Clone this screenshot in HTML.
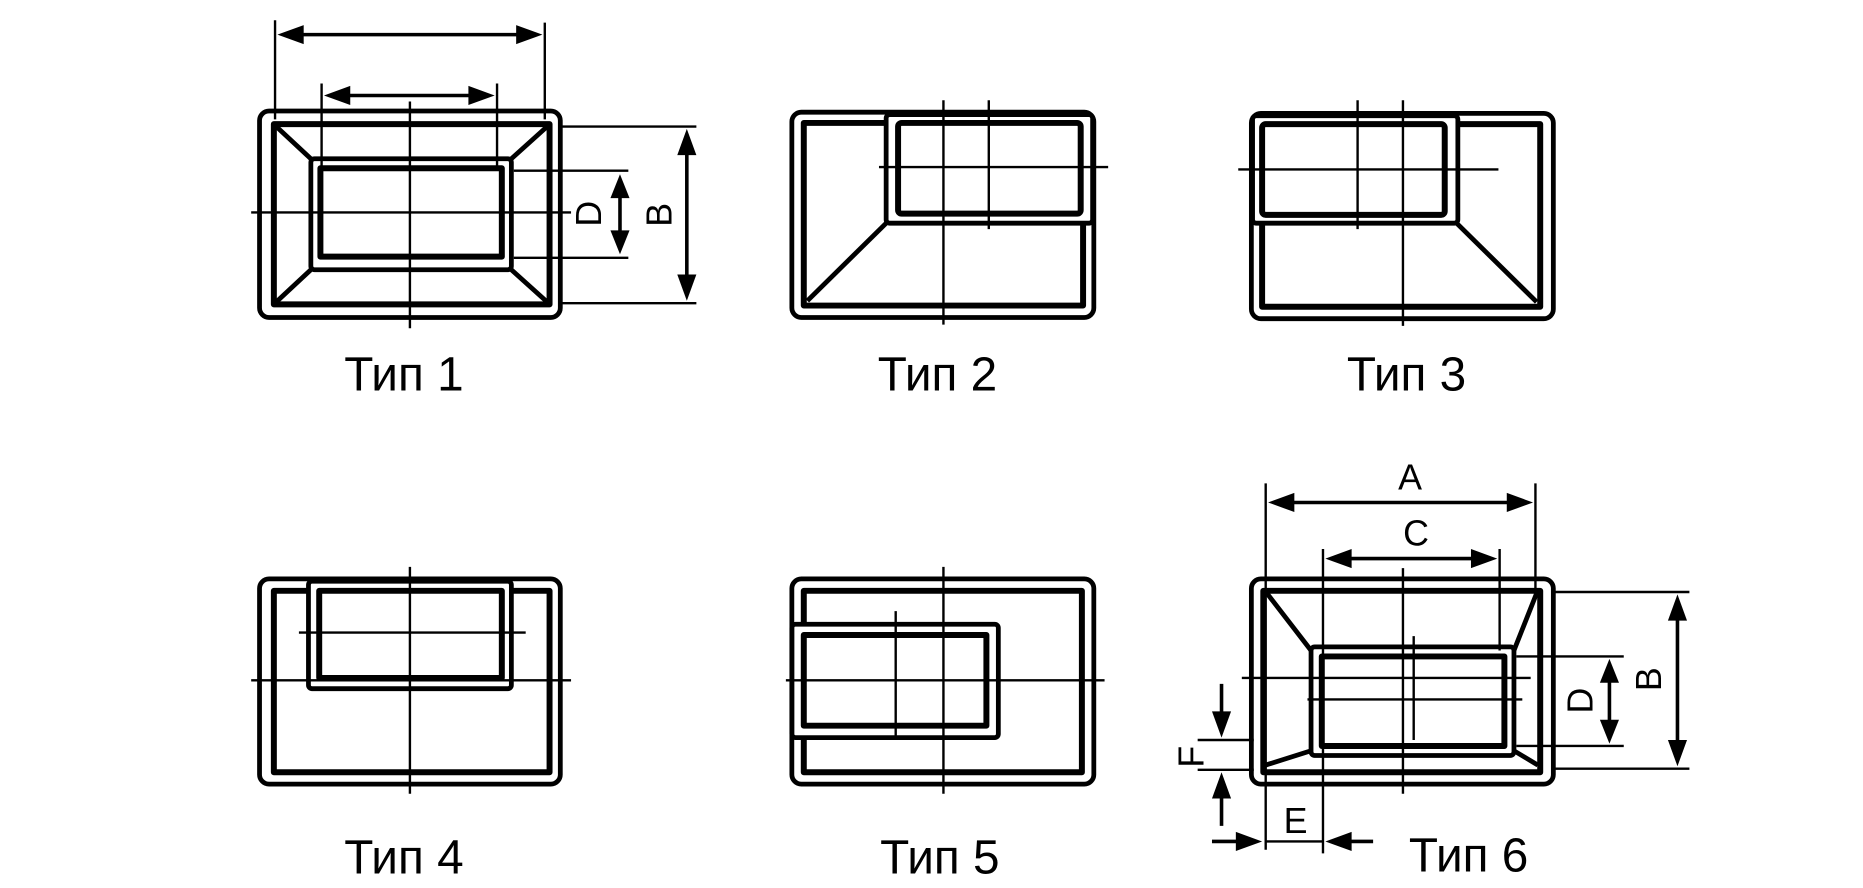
<!DOCTYPE html>
<html><head><meta charset="utf-8"><style>html,body{margin:0;padding:0;background:#fff}svg{display:block}</style></head>
<body>
<svg width="1863" height="888" viewBox="0 0 1560 744" xmlns="http://www.w3.org/2000/svg">
<g fill="none" stroke="#000" stroke-linecap="butt" stroke-linejoin="round">
<!-- Type 1 -->
<rect x="217" y="93" width="252" height="173" rx="8" stroke-width="4"/>
<rect x="229" y="104" width="231" height="151" stroke-width="5"/>
<rect x="260" y="133" width="168" height="93" rx="3" stroke-width="4"/>
<rect x="268" y="141" width="152" height="74" stroke-width="5"/>
<path d="M231,106 L260,133 M458,106 L428,133 M231,253 L260,226 M458,253 L428,226" stroke-width="4"/>
<path d="M343,85 V275 M210,178 H478" stroke-width="2"/>
<path d="M230,17 V100 M456,19 V100 M269,70 V140 M416,70 V140" stroke-width="2"/>
<path d="M240,29 H446 M279,80 H406" stroke-width="3"/>
<path d="M470,106 H583 M470,254 H583 M430,143 H526 M430,216 H526" stroke-width="2"/>
<path d="M575,116 V244 M519,154 V205" stroke-width="3"/>
<!-- Type 2 -->
<rect x="663" y="94" width="253" height="172" rx="8" stroke-width="4"/>
<path d="M742,103 H673 V256 H907 V187" stroke-width="5"/>
<rect x="742" y="96" width="173" height="91" rx="3" stroke-width="4"/>
<rect x="752" y="103" width="153" height="76" rx="3" stroke-width="5"/>
<path d="M676,252 L742,187" stroke-width="4"/>
<path d="M790,84 V272 M828,84 V192 M736,140 H928" stroke-width="2"/>
<!-- Type 3 -->
<rect x="1048" y="95" width="253" height="172" rx="8" stroke-width="4"/>
<path d="M1220,104 H1290 V257 H1057 V187" stroke-width="5"/>
<rect x="1049" y="97" width="172" height="90" rx="3" stroke-width="4"/>
<rect x="1057" y="104" width="153" height="76" rx="3" stroke-width="5"/>
<path d="M1220,187 L1287,253" stroke-width="4"/>
<path d="M1137,84 V192 M1175,84 V273 M1037,142 H1255" stroke-width="2"/>
<!-- Type 4 -->
<rect x="217" y="485" width="252" height="172" rx="8" stroke-width="4"/>
<path d="M258,495 H229 V647 H460 V495 H428" stroke-width="5"/>
<rect x="258" y="487" width="170" height="90" rx="3" stroke-width="4"/>
<rect x="267" y="495" width="153" height="73" stroke-width="5"/>
<path d="M343,475 V665 M210,570 H478 M250,530 H440" stroke-width="2"/>
<!-- Type 5 -->
<rect x="663" y="485" width="253" height="172" rx="8" stroke-width="4"/>
<path d="M673,523 V495 H906 V647 H673 V618" stroke-width="5"/>
<rect x="663" y="523" width="173" height="95" rx="3" stroke-width="4"/>
<rect x="673" y="532" width="153" height="76" stroke-width="5"/>
<path d="M750,512 V620 M790,475 V665 M658,570 H925" stroke-width="2"/>
<!-- Type 6 -->
<rect x="1048" y="485" width="253" height="172" rx="8" stroke-width="4"/>
<rect x="1058" y="495" width="232" height="152" stroke-width="5"/>
<rect x="1098" y="542" width="170" height="91" rx="3" stroke-width="4"/>
<rect x="1107" y="550" width="153" height="75" stroke-width="5"/>
<path d="M1061,497 L1098,545 M1287,497 L1268,545 M1060,641 L1098,629 M1288,641 L1268,629" stroke-width="4"/>
<path d="M1175,476 V665 M1184,533 V620 M1040,568 H1282 M1095,586 H1275" stroke-width="2"/>
<path d="M1060,405 V712 M1286,405 V497 M1108,460 V715 M1256,460 V545" stroke-width="2"/>
<path d="M1070,421 H1276 M1118,468 H1246" stroke-width="3"/>
<path d="M1300,496 H1415 M1300,644 H1415 M1270,550 H1360 M1270,625 H1360" stroke-width="2"/>
<path d="M1405,506 V634 M1348,560 V615" stroke-width="3"/>
<path d="M1003,620 H1050 M1003,645 H1050" stroke-width="2"/>
<path d="M1023,573 V600 M1023,692 V665 M1015,705 H1040 M1150,705 H1128" stroke-width="3"/>
<path d="M1060,705 H1108" stroke-width="2"/>
</g>
<g fill="#000" stroke="none">
<polygon points="232,29 254,21 254,37"/><polygon points="454,29 432,21 432,37"/>
<polygon points="271,80 293,72 293,88"/><polygon points="414,80 392,72 392,88"/>
<polygon points="575,108 567,130 583,130"/><polygon points="575,252 567,230 583,230"/>
<polygon points="519,146 511,166 527,166"/><polygon points="519,213 511,193 527,193"/>
<polygon points="1062,421 1084,413 1084,429"/><polygon points="1284,421 1262,413 1262,429"/>
<polygon points="1110,468 1132,460 1132,476"/><polygon points="1254,468 1232,460 1232,476"/>
<polygon points="1405,498 1397,520 1413,520"/><polygon points="1405,642 1397,620 1413,620"/>
<polygon points="1348,552 1340,572 1356,572"/><polygon points="1348,623 1340,603 1356,603"/>
<polygon points="1023,618 1015,596 1031,596"/><polygon points="1023,647 1015,669 1031,669"/>
<polygon points="1057,705 1035,697 1035,713"/><polygon points="1110,705 1132,697 1132,713"/>
</g>
<g font-family="Liberation Sans, sans-serif" fill="#000">
<text x="338" y="327" font-size="40" text-anchor="middle">Тип 1</text>
<text x="785" y="327" font-size="40" text-anchor="middle">Тип 2</text>
<text x="1178" y="327" font-size="40" text-anchor="middle">Тип 3</text>
<text x="338" y="732" font-size="40" text-anchor="middle">Тип 4</text>
<text x="787" y="732" font-size="40" text-anchor="middle">Тип 5</text>
<text x="1230" y="730" font-size="40" text-anchor="middle">Тип 6</text>
<text x="1181" y="410" font-size="30" text-anchor="middle">A</text>
<text x="1186" y="457" font-size="30" text-anchor="middle">C</text>
<text x="1085" y="698" font-size="30" text-anchor="middle">E</text>
<text font-size="30" text-anchor="middle" transform="translate(503,179) rotate(-90)">D</text>
<text font-size="30" text-anchor="middle" transform="translate(562,180) rotate(-90)">B</text>
<text font-size="30" text-anchor="middle" transform="translate(1334,587) rotate(-90)">D</text>
<text font-size="30" text-anchor="middle" transform="translate(1391,569) rotate(-90)">B</text>
<text font-size="30" text-anchor="middle" transform="translate(1008,634) rotate(-90)">F</text>
</g>
</svg>
</body></html>
